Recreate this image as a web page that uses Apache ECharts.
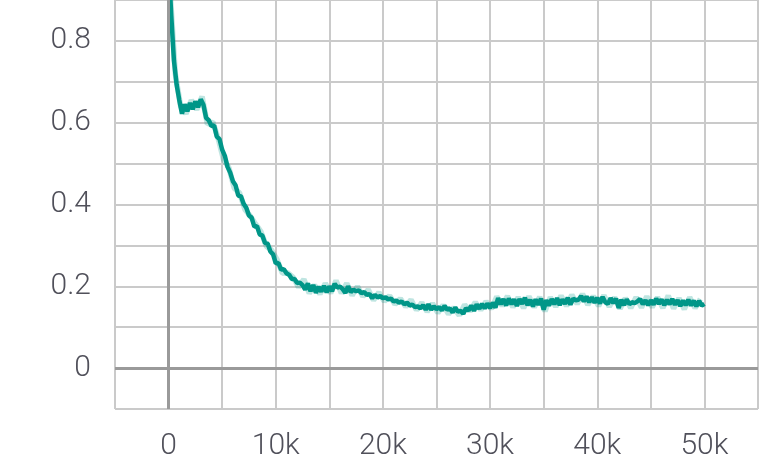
<!DOCTYPE html>
<html>
<head>
<meta charset="utf-8">
<script src="https://cdn.jsdelivr.net/npm/echarts@6/dist/echarts.min.js"></script>
<style>html,body{margin:0;padding:0;background:#fff}#c{width:761px;height:461px}</style>
</head>
<body>
<div id="c"></div>
<script>
// Smoothed curve: sampled every 250 steps starting at step 0
const smoothStart = 0;
const smoothStep = 250;
const smoothValues = [
  0.99, 0.862, 0.752, 0.693, 0.655, 0.622, 0.645, 0.628, 0.648, 0.633, 0.652, 0.638, 0.657, 0.644, 0.612, 0.606, 0.592, 0.593, 0.566, 0.560,
  0.534, 0.519, 0.492, 0.478, 0.457, 0.447, 0.422, 0.420, 0.402, 0.392, 0.373, 0.368, 0.346, 0.347, 0.327, 0.324, 0.306, 0.304, 0.285, 0.278,
  0.256, 0.257, 0.241, 0.242, 0.232, 0.228, 0.218, 0.218, 0.208, 0.209, 0.203, 0.192, 0.207, 0.188, 0.203, 0.184, 0.199, 0.187, 0.201, 0.185,
  0.200, 0.188, 0.206, 0.197, 0.199, 0.193, 0.184, 0.200, 0.186, 0.192, 0.188, 0.190, 0.183, 0.186, 0.179, 0.181, 0.171, 0.179, 0.173, 0.176,
  0.171, 0.173, 0.168, 0.170, 0.163, 0.165, 0.160, 0.163, 0.156, 0.160, 0.153, 0.155, 0.149, 0.151, 0.146, 0.154, 0.143, 0.156, 0.143, 0.151,
  0.144, 0.149, 0.141, 0.152, 0.143, 0.146, 0.136, 0.148, 0.138, 0.140, 0.133, 0.146, 0.141, 0.153, 0.140, 0.156, 0.145, 0.157, 0.146, 0.158,
  0.147, 0.160, 0.148, 0.171, 0.156, 0.169, 0.153, 0.170, 0.156, 0.168, 0.152, 0.169, 0.157, 0.172, 0.154, 0.167, 0.151, 0.168, 0.155, 0.170,
  0.143, 0.166, 0.153, 0.169, 0.156, 0.171, 0.154, 0.168, 0.157, 0.172, 0.155, 0.170, 0.166, 0.167, 0.176, 0.163, 0.175, 0.161, 0.173, 0.160,
  0.172, 0.158, 0.174, 0.161, 0.157, 0.171, 0.159, 0.170, 0.147, 0.167, 0.154, 0.168, 0.156, 0.161, 0.159, 0.163, 0.169, 0.156, 0.166, 0.154,
  0.166, 0.155, 0.170, 0.157, 0.168, 0.154, 0.167, 0.156, 0.169, 0.155, 0.166, 0.152, 0.165, 0.154, 0.167, 0.153, 0.165, 0.151, 0.164, 0.153,
  0.157
];
// Raw (faint) curve: sampled every 500 steps starting at step 125
const rawStart = 125;
const rawStep = 500;
const rawValues = [
  0.93, 0.72, 0.64, 0.622, 0.655, 0.632, 0.664, 0.596, 0.602, 0.562,
  0.51, 0.49, 0.44, 0.428, 0.388, 0.372, 0.352, 0.333, 0.298, 0.288,
  0.265, 0.232, 0.233, 0.222, 0.198, 0.217, 0.183, 0.203, 0.181, 0.207,
  0.183, 0.214, 0.183, 0.207, 0.178, 0.2, 0.175, 0.192, 0.166, 0.185,
  0.163, 0.177, 0.156, 0.17, 0.15, 0.167, 0.142, 0.16, 0.138, 0.158,
  0.135, 0.154, 0.132, 0.148, 0.129, 0.155, 0.139, 0.161, 0.142, 0.163,
  0.145, 0.175, 0.152, 0.176, 0.149, 0.173, 0.147, 0.175, 0.149, 0.174,
  0.139, 0.173, 0.15, 0.177, 0.152, 0.179, 0.157, 0.181, 0.155, 0.176,
  0.152, 0.178, 0.15, 0.173, 0.145, 0.171, 0.147, 0.173, 0.148, 0.175,
  0.149, 0.173, 0.147, 0.177, 0.146, 0.171, 0.144, 0.173, 0.147, 0.169
];
const xTickLabels = [0, 10000, 20000, 30000, 40000, 50000];
const yTickLabels = [0, 0.2, 0.4, 0.6, 0.8];

const smoothData = smoothValues.map((v, i) => [smoothStart + i * smoothStep, v]);
const rawData = rawValues.map((v, i) => [rawStart + i * rawStep, v]);

const labelFont = { fontFamily: 'Roboto', fontWeight: 300, fontSize: 30, color: '#50505a' };
const gridColor = '#cacaca';

const chart = echarts.init(document.getElementById('c'), null, { renderer: 'canvas' });
chart.setOption({
  animation: false,
  backgroundColor: '#ffffff',
  grid: { left: 115, right: 1, top: 0, bottom: 51, containLabel: false },
  xAxis: {
    type: 'value', min: -5000, max: 55000, interval: 5000,
    axisLine: { show: false },
    axisTick: { show: true, length: 12, lineStyle: { color: gridColor, width: 2 } },
    splitLine: { show: true, lineStyle: { color: gridColor, width: 2 } },
    axisLabel: Object.assign({
      margin: 22,
      formatter: v => xTickLabels.includes(v) ? (v === 0 ? '0' : (v / 1000) + 'k') : ''
    }, labelFont)
  },
  yAxis: {
    type: 'value', min: -0.1, max: 0.9, interval: 0.1,
    axisLine: { show: false },
    axisTick: { show: true, length: 11, lineStyle: { color: gridColor, width: 2 } },
    splitLine: { show: true, lineStyle: { color: gridColor, width: 2 } },
    axisLabel: Object.assign({
      margin: 24,
      formatter: v => {
        const r = Math.round(v * 10) / 10;
        const hit = yTickLabels.find(t => Math.abs(t - r) < 1e-9);
        if (hit === undefined) return '';
        return hit === 0 ? '0' : hit.toFixed(1);
      }
    }, labelFont)
  },
  series: [
    {
      type: 'line', data: rawData, showSymbol: false, z: 2,
      lineStyle: { color: 'rgba(0,150,136,0.25)', width: 5.5 },
      markLine: {
        silent: true, symbol: 'none', label: { show: false },
        lineStyle: { color: '#9a9a9a', width: 3, type: 'solid' },
        data: [{ xAxis: 0 }, { yAxis: 0 }]
      }
    },
    {
      type: 'line', data: smoothData, showSymbol: false, z: 3,
      lineStyle: { color: '#009688', width: 4.5 }
    }
  ]
});
</script>
</body>
</html>
